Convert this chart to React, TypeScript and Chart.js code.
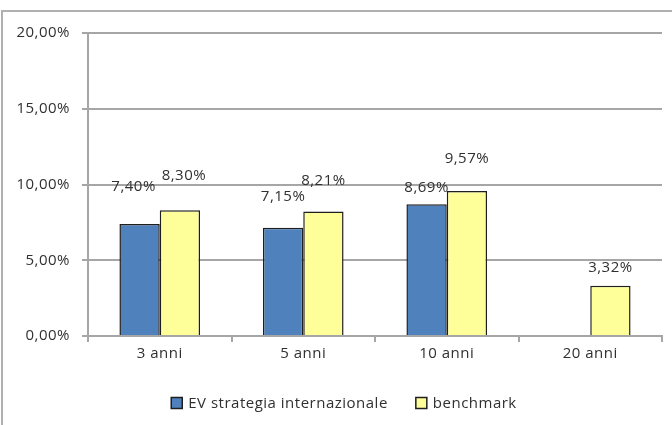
import React, { useEffect, useRef } from "react";
import { Chart, registerables } from "chart.js";

Chart.register(...registerables);

const categories = ["3 anni", "5 anni", "10 anni", "20 anni"];
const evValues: (number | null)[] = [7.4, 7.15, 8.69, null];
const benchmarkValues: number[] = [8.3, 8.21, 9.57, 3.32];
const seriesNames = ["EV strategia internazionale", "benchmark"];
const yTicks = [0, 5, 10, 15, 20];

// label vertical offset above bar top (px), per dataset / point
const labelLift = [
  [37, 31, 17, 0],
  [35, 31, 32, 18],
];
const labelShift = [
  [-6, 0, 0, 0],
  [4, 0, 0, 0],
];

const fmt = (v: number) => v.toFixed(2).replace(".", ",") + "%";
const FONT = "'Open Sans', sans-serif";
const FS = 15;
const SPACING = "0.5px";
const TEXT = "#303030";

const spacingPlugin = {
  id: "spacing",
  beforeDraw(chart: any) {
    chart.ctx.letterSpacing = SPACING;
  },
  beforeLayout(chart: any) {
    chart.ctx.letterSpacing = SPACING;
  },
};

const labelPlugin = {
  id: "barLabels",
  afterDatasetsDraw(chart: any) {
    const ctx = chart.ctx;
    ctx.save();
    ctx.letterSpacing = SPACING;
    ctx.font = `${FS}px ${FONT}`;
    ctx.fillStyle = TEXT;
    ctx.textAlign = "center";
    ctx.textBaseline = "middle";
    chart.data.datasets.forEach((ds: any, di: number) => {
      const meta = chart.getDatasetMeta(di);
      meta.data.forEach((bar: any, i: number) => {
        const v = ds.data[i];
        if (v === null || v === undefined) return;
        ctx.fillText(fmt(v), bar.x + labelShift[di][i], bar.y - labelLift[di][i]);
      });
    });
    ctx.restore();
  },
};

const legendPlugin = {
  id: "customLegend",
  afterDraw(chart: any) {
    const ctx = chart.ctx;
    ctx.save();
    ctx.letterSpacing = SPACING;
    ctx.font = `${FS}px ${FONT}`;
    ctx.textBaseline = "middle";
    ctx.textAlign = "left";
    const box = 11;
    const gapText = 6;
    const gapItem = 28;
    const y = 403;
    const items = chart.data.datasets.map((ds: any) => ({
      text: ds.label,
      color: ds.backgroundColor,
      w: ctx.measureText(ds.label).width,
    }));
    const total = items.reduce((s: number, it: any) => s + box + gapText + it.w, 0) + gapItem * (items.length - 1);
    let x = chart.width / 2 + 8 - total / 2;
    items.forEach((it: any) => {
      ctx.fillStyle = it.color;
      ctx.fillRect(x, y - box / 2, box, box);
      ctx.strokeStyle = "#1f1f1f";
      ctx.lineWidth = 1.5;
      ctx.strokeRect(x, y - box / 2, box, box);
      ctx.fillStyle = TEXT;
      ctx.fillText(it.text, x + box + gapText, y + 1);
      x += box + gapText + it.w + gapItem;
    });
    ctx.restore();
  },
};

export default function App() {
  const ref = useRef<HTMLCanvasElement>(null);
  useEffect(() => {
    if (!ref.current) return;
    const chart = new Chart(ref.current, {
      type: "bar",
      data: {
        labels: categories,
        datasets: [
          {
            label: seriesNames[0],
            data: evValues,
            backgroundColor: "#4F81BD",
            borderColor: "#1f1f1f",
            borderWidth: 1.5,
            categoryPercentage: 0.562,
            barPercentage: 1,
          },
          {
            label: seriesNames[1],
            data: benchmarkValues,
            backgroundColor: "#FFFF99",
            borderColor: "#1f1f1f",
            borderWidth: 1.5,
            categoryPercentage: 0.562,
            barPercentage: 1,
          },
        ],
      },
      options: {
        responsive: false,
        animation: false,
        layout: { padding: { left: 0, right: 10, top: 33, bottom: 40 } },
        plugins: {
          tooltip: { enabled: false },
          legend: { display: false },
        },
        scales: {
          x: {
            grid: {
              drawOnChartArea: false,
              drawTicks: true,
              tickLength: 6,
              color: "#a6a6a6",
              lineWidth: 2,
            },
            border: { color: "#a6a6a6", width: 2 },
            ticks: { color: TEXT, font: { family: FONT, size: FS }, padding: 3 },
            afterFit(scale: any) {
              scale.height = 49;
            },
          },
          y: {
            min: 0,
            max: 20,
            afterBuildTicks(scale: any) {
              scale.ticks = yTicks.map((v) => ({ value: v }));
            },
            grid: {
              color: "#a6a6a6",
              lineWidth: 2,
              tickLength: 6,
            },
            border: { color: "#a6a6a6", width: 2 },
            ticks: {
              color: TEXT,
              font: { family: FONT, size: FS },
              padding: 12,
              callback: (v: any) => fmt(Number(v)),
            },
            afterFit(scale: any) {
              scale.width = 88;
            },
          },
        },
      },
      plugins: [spacingPlugin, labelPlugin, legendPlugin],
    });
    return () => chart.destroy();
  }, []);
  return (
    <div style={{ position: "fixed", left: 0, top: 0, width: 672, height: 425, background: "#fff", overflow: "hidden" }}>
      <div
        style={{
          position: "absolute",
          left: 1,
          top: 10,
          width: 700,
          height: 500,
          border: "2px solid #b0b0b0",
          boxSizing: "border-box",
        }}
      />
      <canvas ref={ref} width={672} height={425} style={{ position: "absolute", left: 0, top: 0 }} />
    </div>
  );
}
